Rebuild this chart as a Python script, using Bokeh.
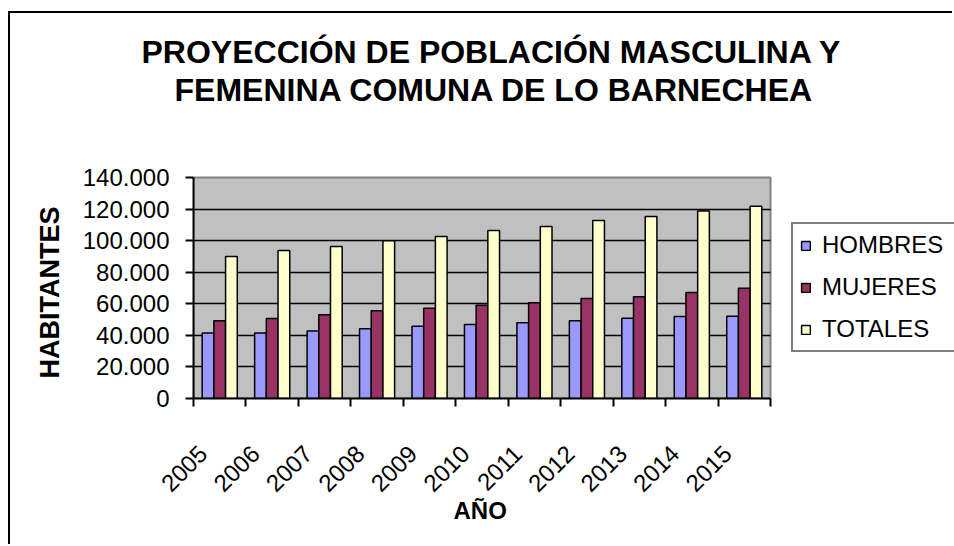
import math
from bokeh.plotting import figure
from bokeh.models import (ColumnDataSource, Range1d, LinearAxis,
                          FixedTicker, Legend, LegendItem, Title)
from bokeh.transform import dodge
from bokeh.embed import file_html
from bokeh.resources import INLINE

# ---------------- data ----------------
years = ["2005", "2006", "2007", "2008", "2009", "2010",
         "2011", "2012", "2013", "2014", "2015"]
hombres = [41500, 41500, 42800, 44200, 45700, 46800, 48000, 49300, 50800, 52000, 52100]
mujeres = [49300, 50600, 53100, 55600, 57100, 59000, 60700, 63300, 64500, 67100, 69800]
totales = [89900, 93700, 96300, 99900, 102600, 106400, 109000, 112800, 115300, 118700, 121800]
series_names = ["HOMBRES", "MUJERES", "TOTALES"]
series_colors = ["#9999FF", "#993366", "#FFFFCC"]
y_ticks = [0, 20000, 40000, 60000, 80000, 100000, 120000, 140000]
y_tick_labels = ["0", "20.000", "40.000", "60.000", "80.000", "100.000", "120.000", "140.000"]
title_lines = ["PROYECCIÓN DE POBLACIÓN MASCULINA Y", "FEMENINA COMUNA DE LO BARNECHEA"]
x_title = "AÑO"
y_title = "HABITANTES"

FONT = "Liberation Sans"
n = len(years)
y_max = y_ticks[-1]
centers = [i + 0.5 for i in range(n)]
label_pos = [c - 0.32 for c in centers]

# layout (pixels): plotting area 577 x 221 inside a wider frame that also holds the legend
W, H = 944, 533
LEFT, TOP, BOTTOM = 183, 94, 148
PLOT_W, PLOT_H = 577, 221
frame_w, frame_h = W - LEFT, H - TOP - BOTTOM

src = ColumnDataSource(dict(x=centers, year=years, hombres=hombres, mujeres=mujeres, totales=totales))

p = figure(x_range=Range1d(0, n * frame_w / PLOT_W), y_range=Range1d(0, y_max * frame_h / PLOT_H),
           width=W, height=H, output_backend="svg", toolbar_location=None,
           x_axis_location=None,
           min_border_left=LEFT, min_border_right=0, min_border_top=TOP, min_border_bottom=BOTTOM)
p.styles = {"border-left": "2px solid black", "border-top": "2px solid black",
            "margin-top": "11px", "margin-left": "8px"}

p.background_fill_color = "white"
p.border_fill_color = "white"
p.outline_line_color = None

# plot area (grey wall with grey top/right border)
p.quad(left=0, right=n, bottom=0, top=y_max, fill_color="#C0C0C0",
       line_color="#808080", line_width=2, level="underlay")

# y axis
ya = p.yaxis[0]
ya.bounds = (0, y_max)
ya.ticker = FixedTicker(ticks=y_ticks)
ya.major_label_overrides = {t: l for t, l in zip(y_ticks, y_tick_labels)}
ya.major_label_text_font = FONT
ya.major_label_text_font_size = "24px"
ya.major_label_text_color = "black"
ya.major_label_standoff = 16
ya.major_tick_out = 8
ya.major_tick_in = 0
ya.major_tick_line_width = 2
ya.minor_tick_line_color = None
ya.axis_line_width = 2
ya.axis_line_color = "black"

p.ygrid.ticker = FixedTicker(ticks=y_ticks[1:-1])
p.ygrid.cross_bounds = (0, n)
p.ygrid.grid_line_color = "black"
p.ygrid.grid_line_width = 1.5
p.xgrid.grid_line_color = None

# bars
w = 0.223
offsets = [-w, 0.0, w]
cols = ["hombres", "mujeres", "totales"]
renderers = []
for col, off, color in zip(cols, offsets, series_colors):
    r = p.vbar(x=dodge("x", off), top=col, width=w, source=src,
               fill_color=color, line_color="black", line_width=1.5)
    renderers.append(r)

# x axis: labels near category centres, tick marks at category boundaries
x_axis = LinearAxis(ticker=FixedTicker(ticks=label_pos, minor_ticks=list(range(n + 1))),
                    bounds=(0, n),
                    major_label_overrides={c: y for c, y in zip(label_pos, years)},
                    axis_line_color="black", axis_line_width=2,
                    major_tick_line_color=None, major_tick_out=8, major_tick_in=0,
                    minor_tick_line_color="black", minor_tick_line_width=2,
                    minor_tick_out=8, minor_tick_in=0,
                    major_label_orientation=math.pi / 4, major_label_standoff=43,
                    major_label_text_font=FONT, major_label_text_font_size="24px",
                    major_label_text_color="black")
p.add_layout(x_axis, "below")

# axis titles
p.add_layout(Title(text=x_title, align="left", offset=260, standoff=-15,
                   text_font=FONT, text_font_size="24px", text_font_style="bold",
                   text_color="black"), "below")
p.add_layout(Title(text=y_title, align="left", offset=20, standoff=30,
                   text_font=FONT, text_font_size="27px", text_font_style="bold",
                   text_color="black"), "left")

# legend
legend = Legend(items=[LegendItem(label=s, renderers=[r]) for s, r in zip(series_names, renderers)],
                location=(598, 46), orientation="vertical",
                label_text_font=FONT, label_text_font_size="24px", label_text_color="black",
                label_height=28, label_width=128, glyph_height=11, glyph_width=11, label_standoff=11,
                spacing=14, padding=7, margin=0,
                border_line_color="black", border_line_width=2,
                background_fill_color="white", background_fill_alpha=1.0)
p.add_layout(legend)

# chart title (two lines stacked above the frame)
p.add_layout(Title(text=title_lines[1], align="left", offset=-19, standoff=0,
                   text_font=FONT, text_font_size="32px", text_font_style="bold",
                   text_color="black"), "above")
p.add_layout(Title(text=title_lines[0], align="left", offset=-52, standoff=0,
                   text_font=FONT, text_font_size="32px", text_font_style="bold",
                   text_color="black"), "above")

open("out.html", "w").write(file_html(p, INLINE))
